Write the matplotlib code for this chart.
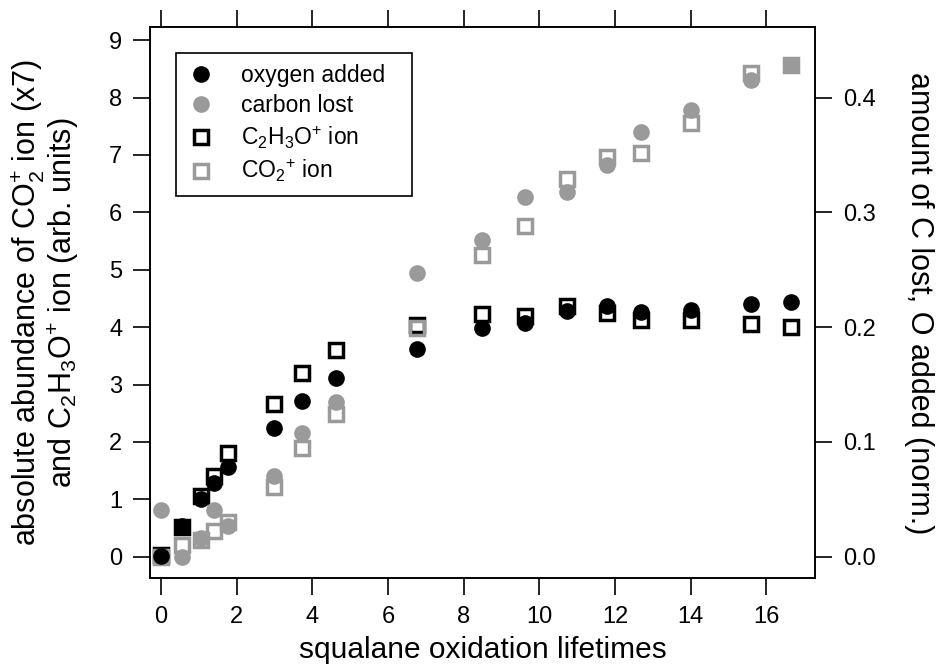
import matplotlib
matplotlib.use("Agg")
import matplotlib.pyplot as plt

plt.rcParams['font.family'] = ['Liberation Sans', 'DejaVu Sans']
plt.rcParams['mathtext.default'] = 'regular'

# squalane oxidation lifetimes
lifetimes = [0.0, 0.56, 1.06, 1.39, 1.76, 3.0, 3.74, 4.62, 6.78, 8.48, 9.63,
             10.74, 11.8, 12.68, 14.02, 15.6, 16.65]

# left axis: ion abundances (arb. units)
c2h3o_ion = [0.03, 0.52, 1.05, 1.4, 1.8, 2.66, 3.2, 3.6, 4.04, 4.23, 4.2,
             4.37, 4.25, 4.12, 4.12, 4.05, 4.0]
co2_ion = [0.0, 0.2, 0.3, 0.45, 0.6, 1.22, 1.9, 2.48, 3.98, 5.25, 5.77,
           6.58, 6.97, 7.04, 7.56, 8.42, 8.57]

# right axis: normalised amounts
oxygen_added = [0.001, 0.0265, 0.05, 0.0645, 0.0785, 0.112, 0.136, 0.156,
                0.181, 0.199, 0.204, 0.214, 0.218, 0.2135, 0.215, 0.22, 0.2215]
carbon_lost = [0.041, 0.0, 0.0165, 0.041, 0.0265, 0.07, 0.108, 0.135,
               0.247, 0.276, 0.313, 0.318, 0.341, 0.37, 0.389, 0.4155, 0.4285]

black = '#000000'
grey = '#9a9a9a'

fig = plt.figure(figsize=(9.4, 6.64), dpi=100)
fig.subplots_adjust(left=0.1596, right=0.867, top=0.9586, bottom=0.1295)
ax = fig.add_subplot(111)
ax2 = ax.twinx()

sq1, = ax.plot(lifetimes, c2h3o_ion, 's', ms=9.5, mfc='none', mec=black, mew=2.5,
               linestyle='none', label='C$_2$H$_3$O$^{+}$ ion')
sq2, = ax.plot(lifetimes, co2_ion, 's', ms=9.5, mfc='none', mec=grey, mew=2.5,
               linestyle='none', label='CO$_2$$^{+}$ ion')
c1, = ax2.plot(lifetimes, oxygen_added, 'o', ms=12, color=black, mec='none',
               linestyle='none', label='oxygen added')
c2, = ax2.plot(lifetimes, carbon_lost, 'o', ms=12, color=grey, mec='none',
               linestyle='none', label='carbon lost')

ax.set_xlim(-0.29, 17.29)
ax.set_ylim(-0.37, 9.22)
ax2.set_ylim(-0.37 / 20, 9.22 / 20)
ax.set_xticks(range(0, 17, 2))
ax.set_yticks(range(0, 10))
ax2.set_yticks([0.0, 0.1, 0.2, 0.3, 0.4])
ax2.set_yticklabels(['0.0', '0.1', '0.2', '0.3', '0.4'])

for a in (ax, ax2):
    for s in a.spines.values():
        s.set_linewidth(1.2)
ax.tick_params(axis='both', direction='out', length=12, width=1.2, pad=8,
               labelsize=17, top=True, right=False)
ax2.tick_params(axis='y', direction='out', length=12, width=1.2, pad=8,
                labelsize=17)

ax.set_xlabel('squalane oxidation lifetimes', fontsize=21.5, va='baseline')
ax.xaxis.set_label_coords(0.5, -0.1448)
ax.set_ylabel('absolute abundance of CO$_2^{+}$ ion (x7)\nand C$_2$H$_3$O$^{+}$ ion (arb. units)',
              fontsize=22, linespacing=1.0, va='center')
ax.yaxis.set_label_coords(-0.158, 0.5)
ax2.set_ylabel('amount of C lost, O added (norm.)', fontsize=22, rotation=270,
               va='center')
ax2.yaxis.set_label_coords(1.156, 0.5)

leg = ax2.legend(handles=[c1, c2, sq1, sq2], loc='upper left', mode='expand',
                 bbox_to_anchor=(0.039, 0.0, 0.355, 0.954), borderaxespad=0,
                 fontsize=16.5, fancybox=False, edgecolor='black', framealpha=1,
                 handletextpad=1.15, labelspacing=0.3, borderpad=0.5,
                 handlelength=1.2)
leg.get_frame().set_linewidth(1.2)

fig.savefig('out.png', dpi=100)
